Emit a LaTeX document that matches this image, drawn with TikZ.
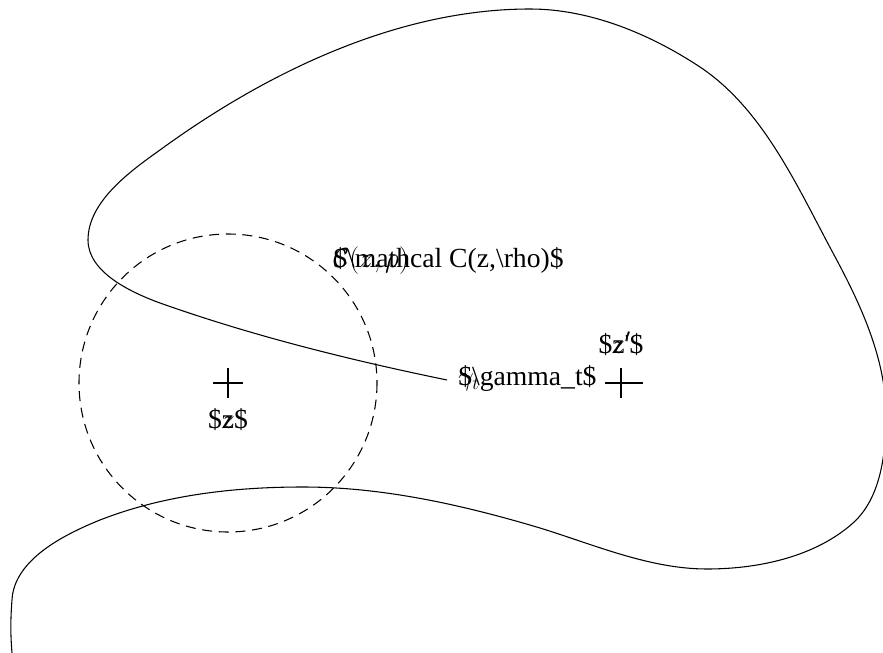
\documentclass[tikz,border=0pt]{standalone}
\usepackage{fontspec}
\setmainfont{Liberation Serif}
\usetikzlibrary{positioning}

% literal source text with the typeset math laid over it
\newcommand{\leftlbl}[2]{\rlap{#1}#2}
\newcommand{\midlbl}[2]{\ooalign{\hfil#1\hfil\cr#2\cr}}

\begin{document}
\begin{tikzpicture}[
  x=0.75pt,y=-0.75pt,
  curve/.style={line width=0.8pt},
  ball/.style={line width=0.8pt,dash pattern=on 7.5pt off 5pt},
  plus/.style={line width=0.8pt},
  lbl/.style={inner sep=0pt,font=\fontsize{20.74}{24}\selectfont}
]
\useasboundingbox (0,0) rectangle (883,653);
\coordinate (z) at (228,383);
\coordinate (zp) at (621,383);
\coordinate (gend) at (447,380);

% the path gamma_t
\draw[curve] (gend)
  .. controls (350,360) and (253,336) .. (160,303)
  .. controls (130,292) and (88,272) .. (88,240)
  .. controls (88,202) and (129,172) .. (160,150)
  .. controls (267,72) and (398,9) .. (530,9)
  .. controls (590,9) and (650,34) .. (700,67)
  .. controls (763,109) and (797,186) .. (833,253)
  .. controls (860,303) and (886,358) .. (886,415)
  .. controls (886,453) and (881,498) .. (853,523)
  .. controls (815,557) and (758,569) .. (707,569)
  .. controls (650,569) and (595,545) .. (540,528)
  .. controls (463,505) and (383,487) .. (303,487)
  .. controls (234,487) and (164,495) .. (100,520)
  .. controls (63,535) and (14,560) .. (12,600)
  .. controls (10,625) and (11,640) .. (12,653);

% the ball C(z,rho)
\draw[ball] (z) circle[radius=149];

% points z and z'
\draw[plus] (z) ++(-15,0) -- ++(30,0);
\draw[plus] (z) ++(0,-15) -- ++(0,30);
\draw[plus] (zp) ++(-16,0) -- ++(38,0);
\draw[plus] (zp) ++(0,-15) -- ++(0,30);

\node[lbl,anchor=base west] (ball) at (333,267) {\leftlbl{$\mathcal C(z,\rho)$}{\$\textbackslash mathcal C(z,\textbackslash rho)\$}};
\node[lbl,anchor=base west] (gam) at (458,385) {\leftlbl{$\gamma_t$}{\$\textbackslash gamma\_t\$}};
\node[lbl,anchor=base] (zlbl) at (228,428) {\midlbl{$z$}{\$z\$}};
\node[lbl,anchor=base] (zplbl) at (621,353) {\midlbl{$z'$}{\$z\textquotesingle\$}};
\end{tikzpicture}
\end{document}
